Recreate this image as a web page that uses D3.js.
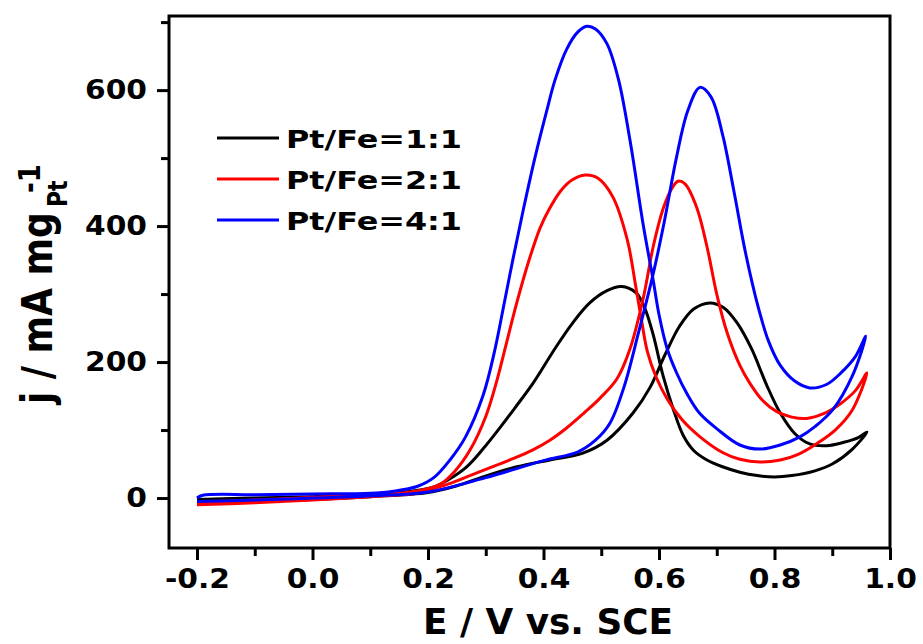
<!DOCTYPE html>
<html>
<head>
<meta charset="utf-8">
<script src="https://cdn.jsdelivr.net/npm/d3@7"></script>
<style>
  body { margin: 0; background: #fff; }
  text { font-family: "DejaVu Sans", Verdana, sans-serif; font-weight: bold; }
</style>
</head>
<body>
<div id="chart"></div>
<script>
// [E (V vs. SCE), j (mA mg_Pt^-1)], one loop per catalyst
const pt11 = [
  [-0.2,-5],[-0.1,-4],[0.0,-2],[0.1,2],[0.2,8],[0.25,18],[0.295,31],[0.354,46],[0.411,56],
  [0.468,66],[0.51,85],[0.555,125],[0.584,162],[0.61,210],[0.635,252],[0.66,278],[0.688,287],
  [0.712,280],[0.735,258],[0.76,220],[0.787,165],[0.81,125],[0.835,95],[0.86,80],[0.89,77],
  [0.92,82],[0.945,89],[0.96,97],
  [0.935,72],[0.9,50],[0.87,40],[0.83,33],[0.8,31],[0.77,33],[0.74,38],[0.71,46],[0.683,56],
  [0.66,70],[0.642,92],[0.625,130],[0.607,180],[0.59,240],[0.575,280],[0.56,302],[0.535,311],
  [0.51,305],[0.48,287],[0.45,257],[0.42,220],[0.382,169],[0.35,132],[0.325,104],[0.295,72],
  [0.267,46],[0.235,27],[0.209,16],[0.15,8],[0.1,5],[0.0,2],[-0.1,0],[-0.2,-2]
];
const pt21 = [
  [-0.2,-10],[-0.1,-7],[0.0,-3],[0.1,2],[0.18,7],[0.21,14],[0.24,22],[0.267,31],[0.3,42],
  [0.342,56],[0.38,70],[0.411,85],[0.44,103],[0.47,125],[0.498,147],[0.527,175],[0.55,220],
  [0.573,295],[0.59,370],[0.607,425],[0.62,452],[0.633,466],[0.645,462],[0.665,428],[0.683,370],
  [0.7,300],[0.718,243],[0.74,195],[0.758,168],[0.78,143],[0.804,127],[0.83,119],[0.856,117],
  [0.885,124],[0.913,138],[0.94,158],[0.96,184],
  [0.935,130],[0.905,100],[0.873,80],[0.84,64],[0.81,56],[0.775,53],[0.74,57],[0.71,67],
  [0.671,90],[0.64,115],[0.614,146],[0.595,178],[0.58,215],[0.57,260],[0.56,310],[0.545,380],
  [0.52,443],[0.495,470],[0.472,475],[0.45,468],[0.43,452],[0.41,425],[0.394,397],[0.375,350],
  [0.354,288],[0.335,225],[0.319,172],[0.3,120],[0.273,71],[0.245,38],[0.221,20],[0.18,10],
  [0.1,5],[0.0,1],[-0.1,-3],[-0.2,-6]
];
const pt41 = [
  [-0.2,-5],[-0.1,-3],[0.0,0],[0.1,3],[0.2,9],[0.3,30],[0.4,55],[0.46,68],[0.49,85],
  [0.515,110],[0.54,165],[0.565,245],[0.59,330],[0.61,410],[0.63,500],[0.65,570],[0.671,604],
  [0.69,590],[0.71,535],[0.73,450],[0.75,360],[0.772,280],[0.79,230],[0.81,195],[0.835,172],
  [0.861,162],[0.89,167],[0.915,184],[0.94,208],[0.958,238],
  [0.935,180],[0.901,130],[0.87,105],[0.844,90],[0.81,78],[0.775,72],[0.74,78],[0.7,102],
  [0.67,125],[0.648,154],[0.63,185],[0.614,220],[0.6,270],[0.59,320],[0.573,400],[0.55,525],
  [0.53,615],[0.51,668],[0.49,690],[0.475,694],[0.46,686],[0.44,660],[0.42,615],[0.406,571],
  [0.385,500],[0.365,424],[0.348,355],[0.333,291],[0.315,215],[0.295,150],[0.265,90],
  [0.238,56],[0.21,30],[0.181,17],[0.14,10],[0.1,7],[0.0,6],[-0.1,5],[-0.19,4],[-0.2,0]
];

const seriesNames = ["Pt/Fe=1:1", "Pt/Fe=2:1", "Pt/Fe=4:1"];
const seriesColors = ["#000000", "#ff0000", "#0000ff"];
const seriesData = [pt11, pt21, pt41];

const xMajor = [-0.2, 0.0, 0.2, 0.4, 0.6, 0.8, 1.0];
const xMinor = [-0.1, 0.1, 0.3, 0.5, 0.7, 0.9];
const yMajor = [0, 200, 400, 600];
const yMinor = [100, 300, 500, 700];

const W = 923, H = 644;
const plotLeft = 169, plotRight = 890, plotTop = 16, plotBottom = 548;

const x = d3.scaleLinear().domain([-0.2485, 1.0]).range([plotLeft, plotRight]);
const y = d3.scaleLinear().domain([-73.5, 709]).range([plotBottom, plotTop]);

const svg = d3.select("#chart").append("svg")
  .attr("width", W).attr("height", H);

// curves
const line = d3.line()
  .x(d => x(d[0])).y(d => y(d[1]))
  .curve(d3.curveCatmullRom.alpha(0.5));

svg.append("g")
  .selectAll("path")
  .data(seriesData)
  .join("path")
  .attr("d", line)
  .attr("fill", "none")
  .attr("stroke", (d, i) => seriesColors[i])
  .attr("stroke-width", 3)
  .attr("stroke-linejoin", "round");

// axes
const xAxis = svg.append("g")
  .attr("transform", `translate(0,${plotBottom})`)
  .call(d3.axisBottom(x).tickValues(xMajor).tickSize(12).tickPadding(9)
    .tickFormat(d => d3.format(".1f")(d).replace("−", "-")));
svg.append("g")
  .attr("transform", `translate(0,${plotBottom})`)
  .call(d3.axisBottom(x).tickValues(xMinor).tickSize(8).tickFormat(""));

const yAxis = svg.append("g")
  .attr("transform", `translate(${plotLeft},0)`)
  .call(d3.axisLeft(y).tickValues(yMajor).tickSize(12).tickPadding(10));
svg.append("g")
  .attr("transform", `translate(${plotLeft},0)`)
  .call(d3.axisLeft(y).tickValues(yMinor).tickSize(8).tickFormat(""));

svg.selectAll(".domain").remove();
svg.selectAll(".tick line").attr("stroke", "#000").attr("stroke-width", 3);
svg.selectAll(".tick text")
  .attr("font-size", 27)
  .attr("fill", "#000")
  .style("font-family", '"DejaVu Sans", Verdana, sans-serif')
  .style("font-weight", "bold")
  .each(function () {
    const w = this.getComputedTextLength();
    d3.select(this).attr("textLength", w * 1.1).attr("lengthAdjust", "spacingAndGlyphs");
  });

// frame
svg.append("rect")
  .attr("x", plotLeft).attr("y", plotTop)
  .attr("width", plotRight - plotLeft).attr("height", plotBottom - plotTop)
  .attr("fill", "none").attr("stroke", "#000").attr("stroke-width", 3);

// axis titles
svg.append("text")
  .attr("x", 423).attr("y", 634)
  .attr("font-size", 35)
  .attr("textLength", 250)
  .attr("lengthAdjust", "spacingAndGlyphs")
  .text("E / V vs. SCE");

const yt = svg.append("text")
  .attr("transform", "translate(52,404) rotate(-90) scale(1,1.18)")
  .attr("font-size", 36);
yt.append("tspan").attr("x", 0).attr("y", 0).text("j / mA mg");
yt.append("tspan").attr("x", 197).attr("y", 13).attr("font-size", 22).text("Pt");
yt.append("tspan").attr("x", 211).attr("y", -10).attr("font-size", 26).text("-1");

// legend
const legend = svg.append("g");
seriesNames.forEach((name, i) => {
  const ly = 138 + i * 41;
  legend.append("line")
    .attr("x1", 217).attr("x2", 279).attr("y1", ly).attr("y2", ly)
    .attr("stroke", seriesColors[i]).attr("stroke-width", 3);
  legend.append("text")
    .attr("x", 286).attr("y", ly + 10)
    .attr("font-size", 25)
    .attr("textLength", 176)
    .attr("lengthAdjust", "spacingAndGlyphs")
    .text(name);
});
</script>
</body>
</html>
